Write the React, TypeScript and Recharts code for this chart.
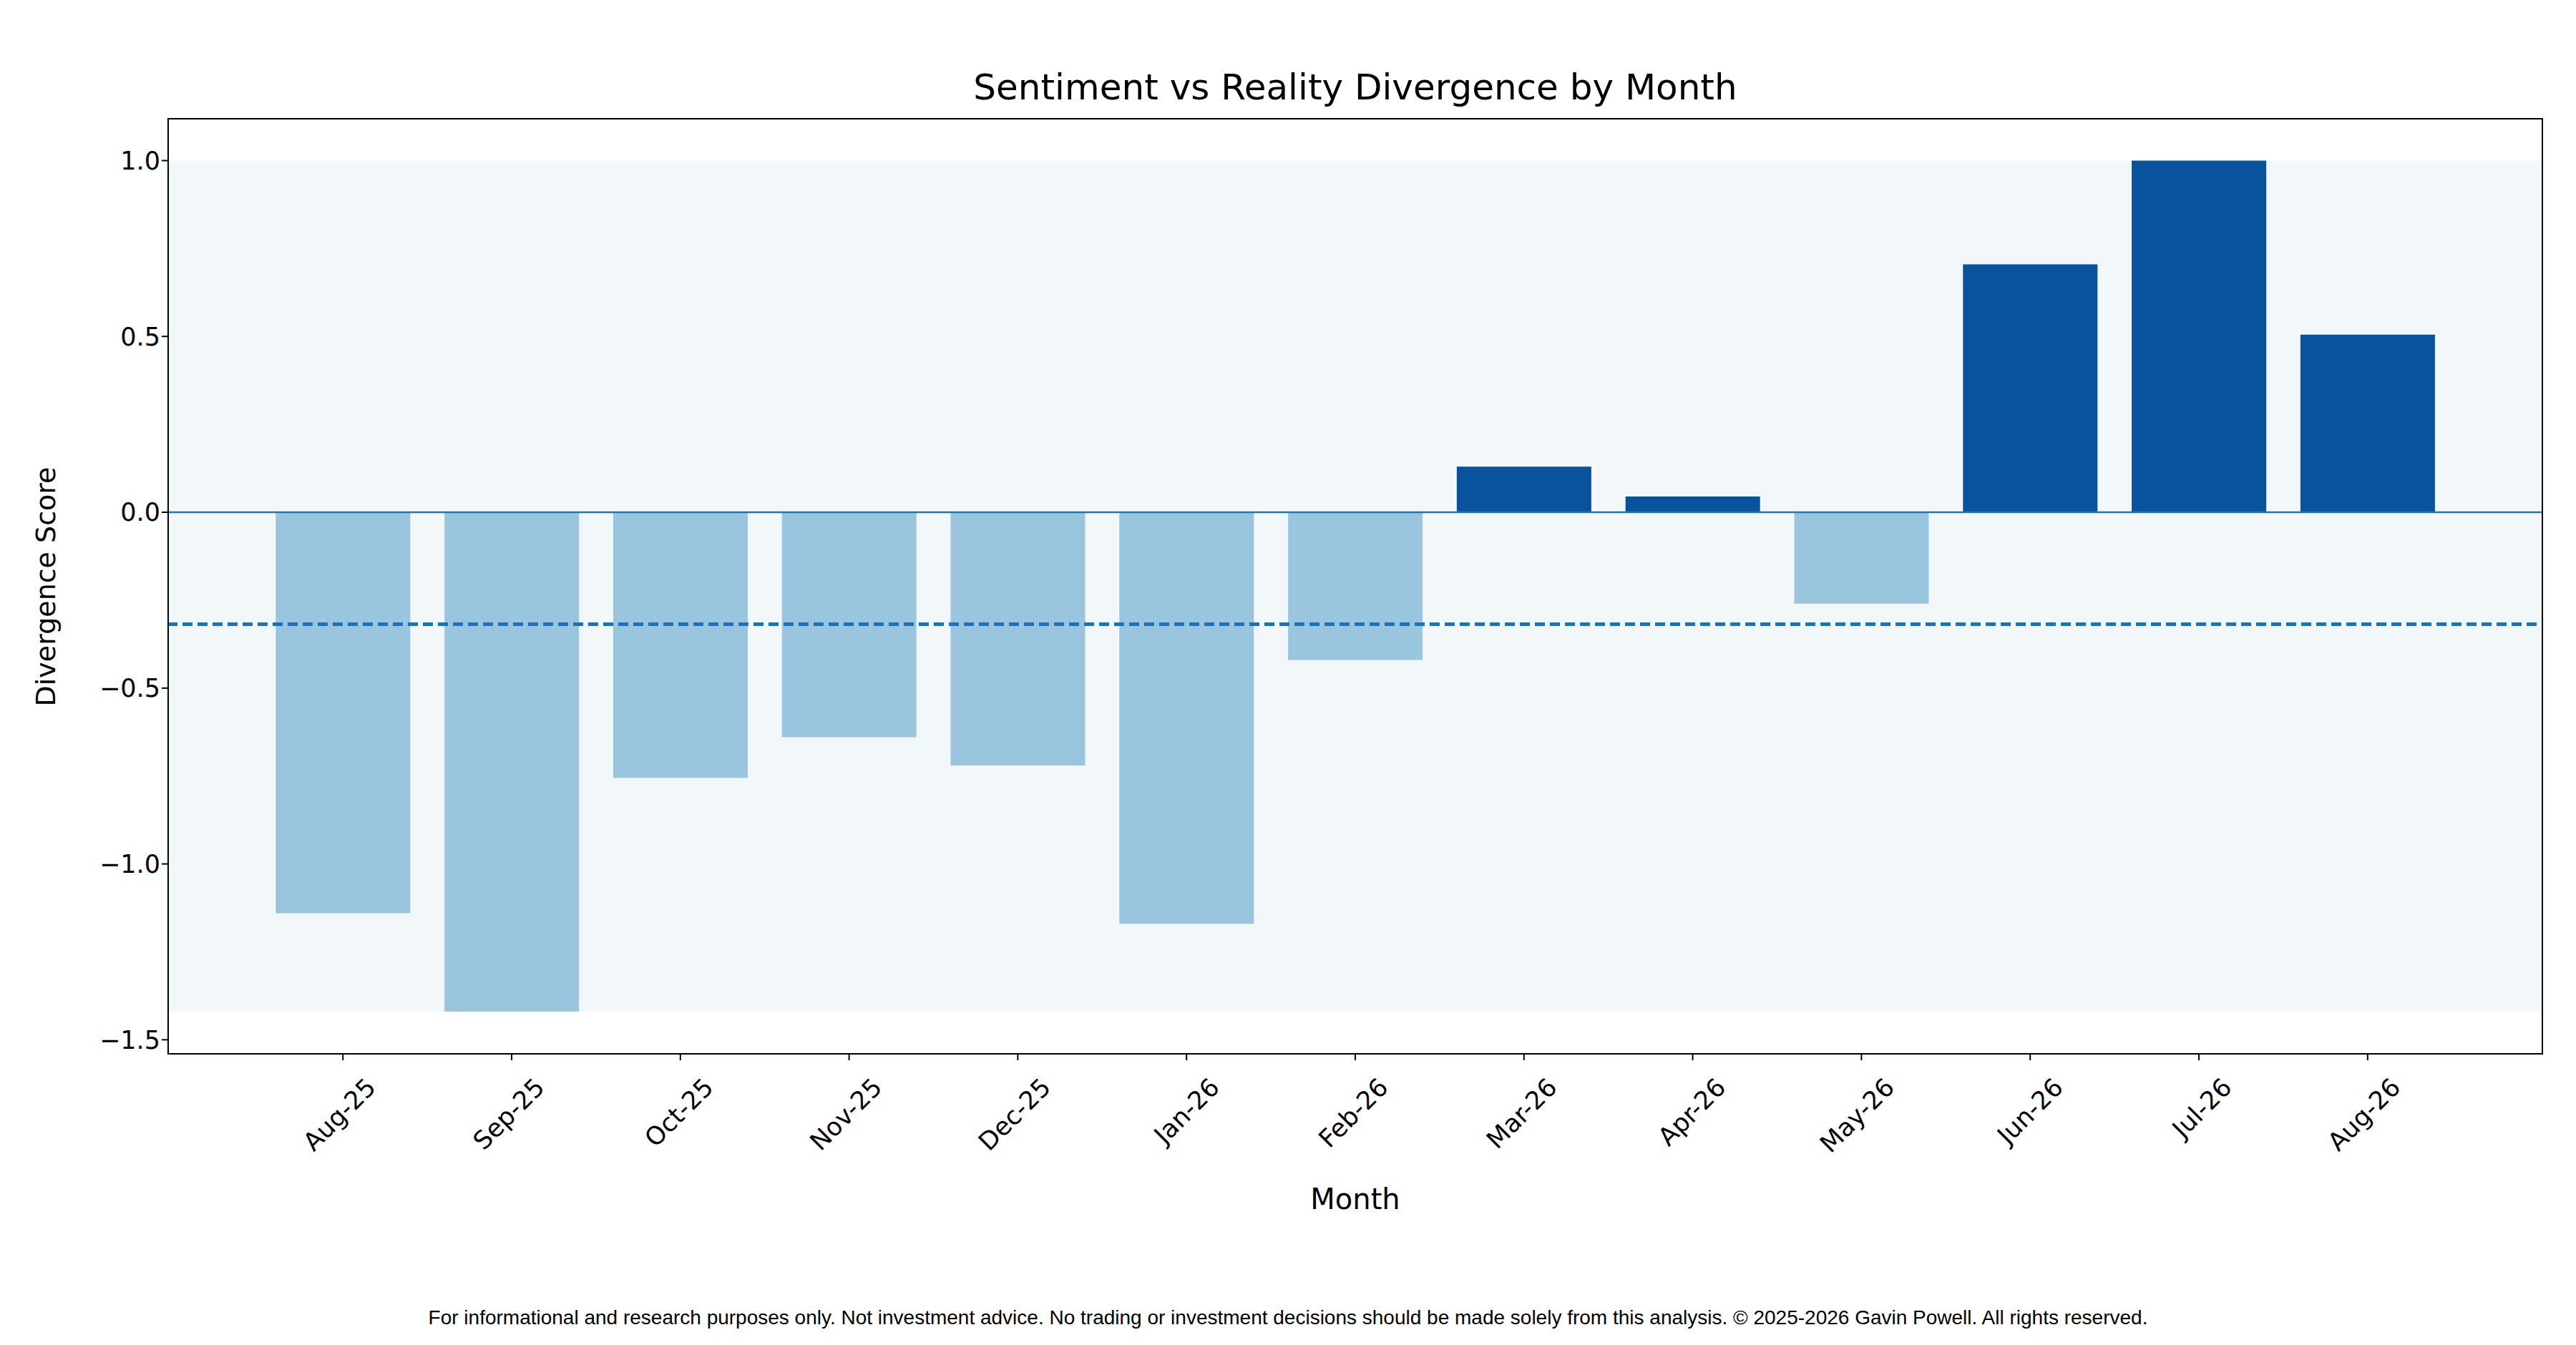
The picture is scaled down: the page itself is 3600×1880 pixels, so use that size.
import React from "react";
import { BarChart, Bar, XAxis, YAxis, Cell, ReferenceLine, ReferenceArea } from "recharts";

const months = ["Aug-25", "Sep-25", "Oct-25", "Nov-25", "Dec-25", "Jan-26", "Feb-26", "Mar-26", "Apr-26", "May-26", "Jun-26", "Jul-26", "Aug-26"];
const scores = [-1.14, -1.42, -0.755, -0.64, -0.72, -1.17, -0.42, 0.13, 0.045, -0.26, 0.705, 1.0, 0.505];
const yTicks = [-1.5, -1.0, -0.5, 0, 0.5, 1.0];
const meanScore = scores.reduce((a, b) => a + b, 0) / scores.length;

const data = months.map((m, i) => ({ x: i, month: m, v: scores[i] }));

const W = 3600, H = 1880;
const L = 234, T = 165, R = 3554, B = 1474;
const font = "DejaVu Sans, sans-serif";

const fmt = (v: number) => (v < 0 ? "\u2212" : "") + Math.abs(v).toFixed(1);

function MonthTick(props: any) {
  const { x, y, payload } = props;
  const ax = x + 30, ay = y + 20;
  return (
    <text x={ax} y={ay} textAnchor="end" fontSize={35} fontFamily={font} fill="#000"
      transform={`rotate(-45 ${ax} ${ay})`} dominantBaseline="hanging">
      {months[payload.value]}
    </text>
  );
}

export default function App() {
  return (
    <div style={{ position: "absolute", left: 0, top: 0, width: W, height: H, background: "#fff", fontFamily: font }}>
      <BarChart width={W} height={H} data={data} margin={{ top: T, left: 0, right: W - R, bottom: 0 }}>
        <XAxis dataKey="x" type="number" domain={[-1.04, 13.04]} ticks={months.map((_, i) => i)}
          tick={<MonthTick />} height={H - B} axisLine={false} tickLine={{ stroke: "#000", strokeWidth: 2 }} tickSize={8} interval={0} />
        <YAxis type="number" domain={[-1.542, 1.121]} ticks={yTicks} tickFormatter={fmt} width={L}
          axisLine={false} tickLine={{ stroke: "#000", strokeWidth: 2 }} tickSize={8}
          tick={{ fontSize: 35, fill: "#000", fontFamily: font }} allowDataOverflow />
        <ReferenceArea x1={-1.04} x2={13.04} y1={Math.min(...scores)} y2={Math.max(...scores)} fill="#f2f7fa" fillOpacity={1} stroke="none" />
        <Bar dataKey="v" barSize={188} isAnimationActive={false}>
          {data.map((d, i) => (
            <Cell key={i} fill={d.v >= 0 ? "#08539c" : "#9ac5de"} />
          ))}
        </Bar>
        <ReferenceLine y={0} stroke="#1f77b4" strokeWidth={2.5} />
        <ReferenceLine y={meanScore} stroke="#2171b5" strokeWidth={5} strokeDasharray="14 7" />
      </BarChart>
      <div style={{ position: "absolute", left: L, top: T, width: R - L, height: B - T, border: "2.5px solid #000", boxSizing: "border-box", pointerEvents: "none" }} />
      <div style={{ position: "absolute", left: L, width: R - L, top: 93, textAlign: "center", fontSize: 50 }}>Sentiment vs Reality Divergence by Month</div>
      <div style={{ position: "absolute", left: L, width: R - L, top: 1653, textAlign: "center", fontSize: 40 }}>Month</div>
      <div style={{ position: "absolute", left: 64, top: (T + B) / 2, transform: "translate(-50%, -50%) rotate(-90deg)", fontSize: 38, whiteSpace: "nowrap" }}>Divergence Score</div>
      <div style={{ position: "absolute", left: 0, width: W, top: 1826, textAlign: "center", fontSize: 28, fontFamily: "Liberation Sans, Arial, sans-serif" }}>
        For informational and research purposes only. Not investment advice. No trading or investment decisions should be made solely from this analysis. © 2025-2026 Gavin Powell. All rights reserved.
      </div>
    </div>
  );
}
